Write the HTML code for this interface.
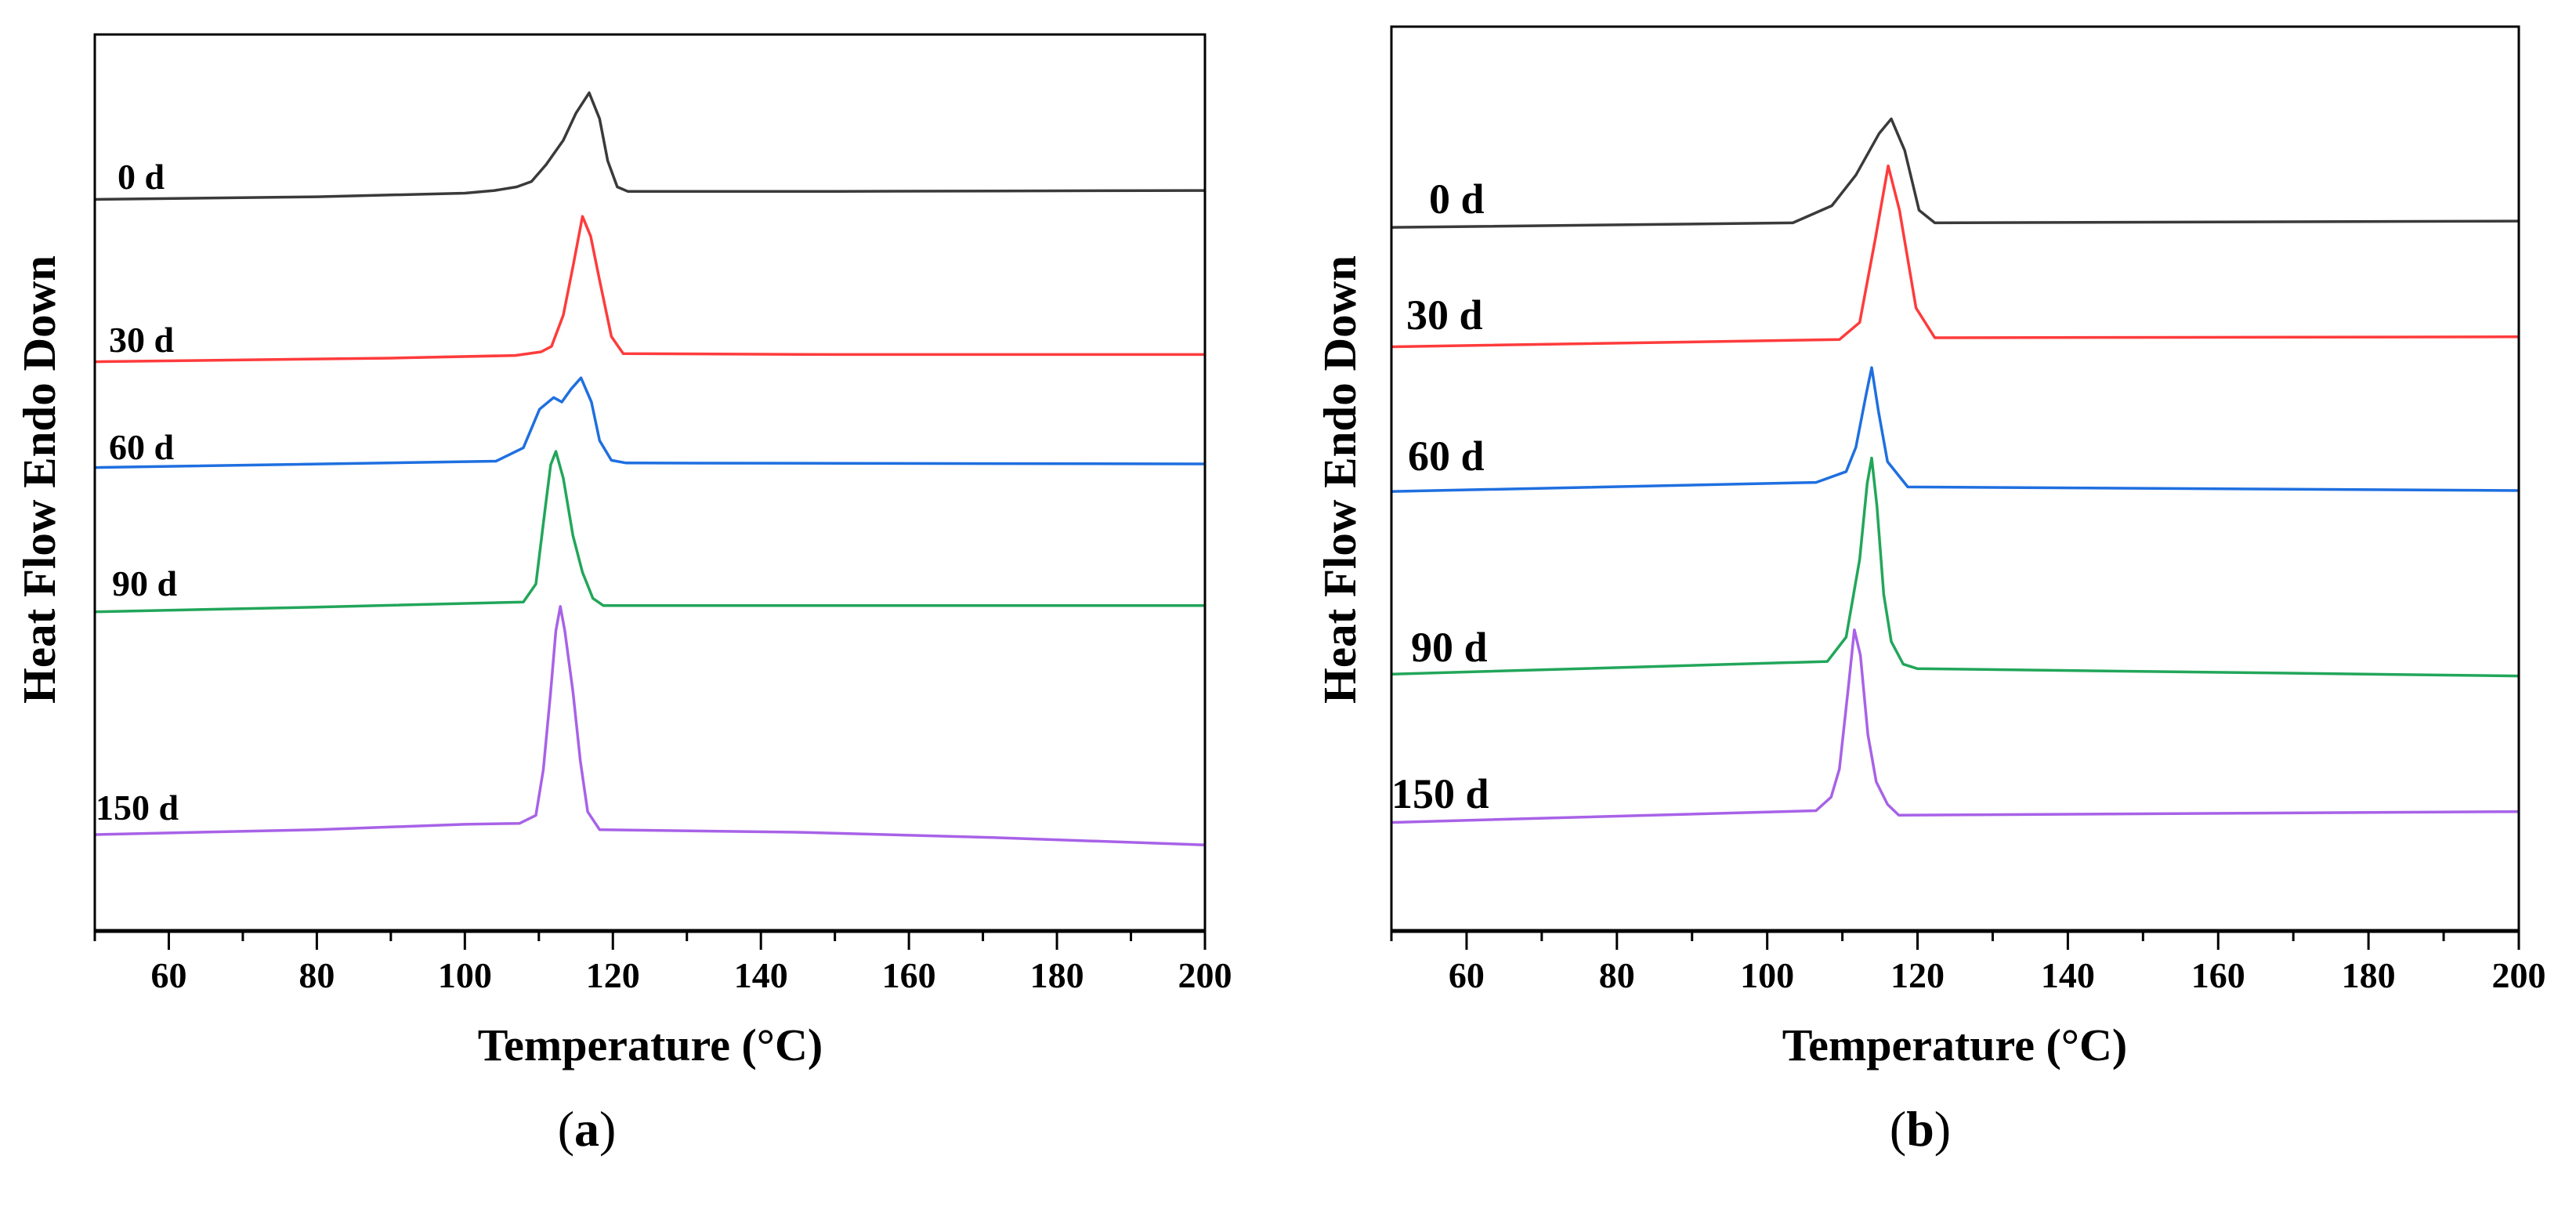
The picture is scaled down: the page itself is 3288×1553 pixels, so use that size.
<!DOCTYPE html>
<html><head><meta charset="utf-8"><style>
html,body{margin:0;padding:0;background:#fff;}
svg{display:block;font-family:"Liberation Serif",serif;font-weight:bold;}
</style></head><body>
<svg id="fig" width="3288" height="1553" viewBox="0 0 3288 1553"></svg>
<script>
const xTicks = [60, 80, 100, 120, 140, 160, 180, 200];
const labelsA = ["0 d", "30 d", "60 d", "90 d", "150 d"];
const labelsB = ["0 d", "30 d", "60 d", "90 d", "150 d"];
const colors = ["#3a3a3a", "#ff3b3b", "#1f6fe0", "#22a65a", "#a862e8"];
// Panel (a) series: temperature points and heat flow (arbitrary units, 0-100)
const a0T = [50, 80, 100, 104, 107, 109, 111, 113.3, 115, 116.8, 118.2, 119.3, 120.6, 122, 150, 200];
const a0V = [81.6, 81.9, 82.3, 82.6, 83.0, 83.6, 85.5, 88.2, 91.2, 93.5, 90.6, 85.9, 83.0, 82.5, 82.5, 82.6];
const a30T = [50, 90, 106.8, 110.3, 111.7, 113.3, 114.6, 115.9, 117, 118.2, 119.8, 121.4, 150, 200];
const a30V = [63.5, 63.9, 64.2, 64.6, 65.2, 68.7, 74.1, 79.7, 77.5, 72.6, 66.3, 64.4, 64.3, 64.3];
const a60T = [50, 104.2, 107.9, 110.1, 112, 113.1, 114.4, 115.7, 117.1, 118.2, 119.8, 121.8, 200];
const a60V = [51.7, 52.4, 53.9, 58.2, 59.5, 59.0, 60.5, 61.7, 59.0, 54.7, 52.5, 52.2, 52.1];
const a90T = [50, 78.8, 107.9, 109.6, 110.8, 111.6, 112.3, 113.3, 114.6, 115.9, 117.3, 118.7, 200];
const a90V = [35.6, 36.1, 36.7, 38.7, 46.8, 52.0, 53.5, 50.5, 44.1, 40.0, 37.1, 36.3, 36.3];
const a150T = [50, 80, 100, 107.4, 109.6, 110.6, 111.6, 112.3, 112.9, 113.5, 114.6, 115.6, 116.6, 118.2, 146, 172, 200];
const a150V = [10.75, 11.3, 11.9, 12.0, 12.9, 18, 26.7, 33.5, 36.2, 33.5, 26.7, 19, 13.3, 11.3, 11.0, 10.4, 9.6];
// Panel (b) series
const b0T = [50, 103.4, 108.6, 111.8, 114.9, 116.5, 118.3, 120.2, 122.3, 200];
const b0V = [77.8, 78.3, 80.2, 83.6, 88.2, 89.8, 86.3, 79.7, 78.3, 78.5];
const b30T = [50, 109.6, 112.3, 114.4, 116.1, 117.6, 119.8, 122.3, 200];
const b30V = [64.6, 65.4, 67.3, 76.6, 84.6, 79.7, 68.9, 65.6, 65.7];
const b60T = [50, 106.5, 110.5, 111.8, 113.2, 113.9, 114.8, 116, 118.7, 200];
const b60V = [48.6, 49.6, 50.8, 53.5, 59.5, 62.3, 57.5, 51.9, 49.1, 48.7];
const b90T = [50, 108, 110.5, 112.3, 113.3, 113.9, 114.6, 115.5, 116.5, 118.1, 120, 200];
const b90V = [28.4, 29.8, 32.5, 41.1, 49.5, 52.3, 47.0, 37.2, 32.0, 29.5, 29.0, 28.2];
const b150T = [50, 106.5, 108.5, 109.6, 110.8, 111.6, 112.4, 113.4, 114.5, 116, 117.5, 200];
const b150V = [12.0, 13.3, 14.8, 17.9, 27.0, 33.3, 30.5, 21.7, 16.5, 14.0, 12.8, 13.2];

const NS = "http://www.w3.org/2000/svg";
const svg = document.getElementById("fig");
function mk(tag, attrs, parent) {
  const e = document.createElementNS(NS, tag);
  for (const k in attrs) e.setAttribute(k, attrs[k]);
  (parent || svg).appendChild(e);
  return e;
}
function panel(cfg) {
  const g = mk("g", {});
  
  
  const xs = t => cfg.L + (t - 50) / 150 * (cfg.R - cfg.L);
  const ys = v => cfg.B - v / 100 * (cfg.B - cfg.T);
  cfg.series.forEach((s, i) => {
    const d = s.T.map((t, j) => (j ? "L" : "M") + xs(t).toFixed(1) + " " + ys(s.V[j]).toFixed(1)).join(" ");
    const p = mk("path", {d: d, fill: "none", stroke: colors[i], "stroke-width": 3.5, "stroke-linejoin": "round"}, g);
    
    
    const tx = mk("text", {x: s.lx, y: s.ly, "font-size": cfg.lfs, fill: "#000"}, g);
    tx.textContent = cfg.labels[i];
    
    
  });
  const fr = mk("rect", {x: cfg.L, y: cfg.T, width: cfg.R - cfg.L, height: cfg.B - cfg.T, fill: "none", stroke: "#000", "stroke-width": 3}, g);
  
  
  const ax = mk("line", {x1: cfg.L, x2: cfg.R, y1: cfg.B, y2: cfg.B, stroke: "#000", "stroke-width": 5}, g);
  
  
  for (let t = 50; t <= 200; t += 10) {
    const major = xTicks.indexOf(t) >= 0;
    const tk = mk("line", {x1: xs(t), x2: xs(t), y1: cfg.B, y2: cfg.B + (major ? 24 : 13), stroke: "#000", "stroke-width": 3}, g);
    
    
  }
  xTicks.forEach(t => {
    const tl = mk("text", {x: xs(t), y: cfg.B + 72, "font-size": 46, "text-anchor": "middle"}, g);
    tl.textContent = t;
    
    
  });
  const xt = mk("text", {x: cfg.xtX, y: 1353, "font-size": 58, "text-anchor": "middle"}, g);
  xt.textContent = "Temperature (°C)";
  
  
  const yt = mk("text", {x: 0, y: 0, "font-size": 59, "text-anchor": "middle", transform: "translate(" + cfg.ytX + ",612) rotate(-90)"}, g);
  yt.textContent = "Heat Flow Endo Down";
  
  
  const cap = mk("text", {x: cfg.capX, y: 1462, "font-size": 64, "text-anchor": "middle", "font-weight": "normal"}, g);
  cap.innerHTML = '(<tspan font-weight="bold">' + cfg.cap + '</tspan>)';
  
  
}
panel({
  name: "panel-a", L: 121, R: 1538, T: 44, B: 1188, lfs: 46, xtX: 830, ytX: 70, capX: 749, cap: "a",
  labels: labelsA,
  series: [
    {T: a0T, V: a0V, lx: 150, ly: 241},
    {T: a30T, V: a30V, lx: 139, ly: 449},
    {T: a60T, V: a60V, lx: 139, ly: 586},
    {T: a90T, V: a90V, lx: 143, ly: 760},
    {T: a150T, V: a150V, lx: 122, ly: 1046}
  ]
});
panel({
  name: "panel-b", L: 1776, R: 3215, T: 34, B: 1188, lfs: 54, xtX: 2495, ytX: 1730, capX: 2451, cap: "b",
  labels: labelsB,
  series: [
    {T: b0T, V: b0V, lx: 1824, ly: 272},
    {T: b30T, V: b30V, lx: 1795, ly: 420},
    {T: b60T, V: b60V, lx: 1797, ly: 600},
    {T: b90T, V: b90V, lx: 1801, ly: 844},
    {T: b150T, V: b150V, lx: 1776, ly: 1031}
  ]
});
</script>
</body></html>
